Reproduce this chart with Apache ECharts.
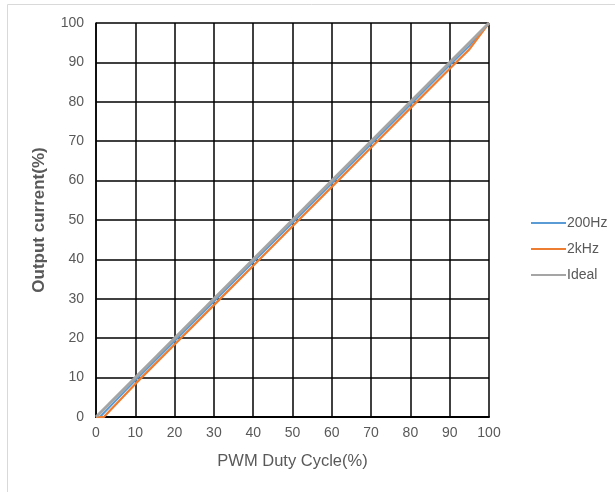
<!DOCTYPE html>
<html>
<head>
<meta charset="utf-8">
<title>PWM</title>
<script src="https://cdn.jsdelivr.net/npm/echarts@6/dist/echarts.min.js"></script>
<style>
  html, body { margin: 0; padding: 0; background: #fff; }
  #chart { width: 615px; height: 492px; }
</style>
</head>
<body>
<div id="chart"></div>
<script>
// 数据
var duty200 = [0, 1, 10, 20, 30, 40, 50, 60, 70, 80, 90, 95, 100];
var out200 = [0, 0, 9.3, 19.3, 29.3, 39.3, 49.3, 59.3, 69.3, 79.3, 89.3, 94.2, 100];
var duty2k = [0, 2, 10, 20, 30, 40, 50, 60, 70, 80, 90, 95, 100];
var out2k = [0, 0, 8.4, 18.4, 28.4, 38.4, 48.4, 58.4, 68.4, 78.4, 88.4, 93.3, 100];
var dutyIdeal = [0, 100];
var outIdeal = [0, 100];

function pairs(xs, ys) {
  return xs.map(function (x, i) { return [x, ys[i]]; });
}

var chart = echarts.init(document.getElementById('chart'));
var font = 'Liberation Sans, Arial, sans-serif';
var labelStyle = { color: '#595959', fontSize: 14, fontFamily: font };

var option = {
  animation: false,
  graphic: [{
    type: 'rect',
    shape: { x: 7.5, y: 4.5, width: 700, height: 600 },
    style: { fill: 'none', stroke: '#d9d9d9', lineWidth: 1 },
    silent: true
  }],
  grid: { left: 96, right: 126, top: 23, bottom: 75 },
  legend: {
    orient: 'vertical',
    left: 526,
    top: 211,
    itemWidth: 35,
    itemHeight: 2,
    itemGap: 12,
    icon: 'rect',
    textStyle: { color: '#595959', fontSize: 14, fontFamily: font, padding: [0, 0, 0, -4] },
    data: ['200Hz', '2kHz', 'Ideal']
  },
  xAxis: {
    type: 'value',
    min: 0, max: 100, interval: 10,
    name: 'PWM Duty Cycle(%)',
    nameLocation: 'middle',
    nameGap: 36,
    nameTextStyle: { color: '#595959', fontSize: 16.5, fontFamily: font },
    axisLine: { lineStyle: { color: '#000', width: 2 } },
    axisTick: { show: false },
    axisLabel: Object.assign({ margin: 9 }, labelStyle),
    splitLine: { show: true, lineStyle: { color: '#000', width: 1.5 } }
  },
  yAxis: {
    type: 'value',
    min: 0, max: 100, interval: 10,
    name: 'Output current(%)',
    nameLocation: 'middle',
    nameGap: 48,
    nameTextStyle: { color: '#595959', fontSize: 17, fontWeight: 'bold', fontFamily: font },
    axisLine: { show: true, lineStyle: { color: '#000', width: 1.5 } },
    axisTick: { show: false },
    axisLabel: Object.assign({ margin: 12 }, labelStyle),
    splitLine: { show: true, lineStyle: { color: '#000', width: 1.5 } }
  },
  series: [
    {
      name: '200Hz', type: 'line', showSymbol: false, symbol: 'none',
      itemStyle: { color: '#5B9BD5' },
      lineStyle: { color: '#5B9BD5', width: 2 },
      data: pairs(duty200, out200)
    },
    {
      name: '2kHz', type: 'line', showSymbol: false, symbol: 'none',
      itemStyle: { color: '#ED7D31' },
      lineStyle: { color: '#ED7D31', width: 2.25 },
      data: pairs(duty2k, out2k)
    },
    {
      name: 'Ideal', type: 'line', showSymbol: false, symbol: 'none',
      itemStyle: { color: '#A5A5A5' },
      lineStyle: { color: '#A5A5A5', width: 3 },
      data: pairs(dutyIdeal, outIdeal)
    }
  ]
};
chart.setOption(option);
</script>
</body>
</html>
